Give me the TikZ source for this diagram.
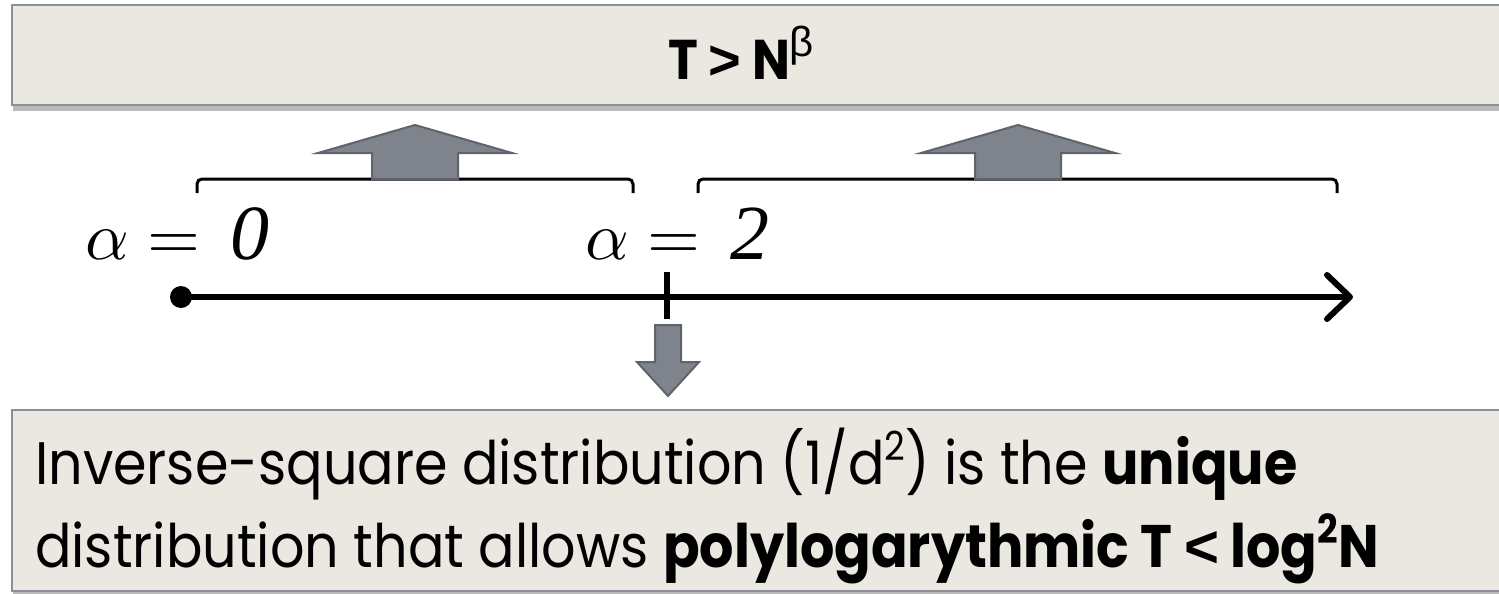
\documentclass[tikz,border=0pt]{standalone}
\usepackage{fontspec}
\usepackage{unicode-math}
\setmathfont{Latin Modern Math}
\newfontfamily\boxfont[FakeStretch=0.90]{Poppins}
\newfontfamily\grkfont{Liberation Sans}
\newfontfamily\digfont{Liberation Serif}
\newcommand\supr[1]{\raisebox{0.40em}{\fontsize{40}{44}\selectfont #1}}
\newcommand\cmpsym[1]{{\grkfont #1}}
\newcommand\itdig[1]{\text{\digfont\itshape\fontsize{78}{80}\selectfont #1}}
\usetikzlibrary{shadows}
\definecolor{boxfill}{RGB}{235,232,225}
\definecolor{boxline}{RGB}{140,144,152}
\definecolor{arrfill}{RGB}{127,131,140}
\definecolor{arrline}{RGB}{95,99,107}
\begin{document}
\begin{tikzpicture}[x=1pt,y=-1pt,
  panel/.style={fill=boxfill,draw=boxline,line width=2.5pt,
    drop shadow={shadow xshift=1pt,shadow yshift=-6pt,fill=black!60,opacity=0.45}},
  blockarrow/.style={fill=arrfill,draw=arrline,line width=2pt,line join=miter},
  bracketline/.style={draw=black,line width=3pt,rounded corners=5pt},
  axisline/.style={draw=black,line width=6pt},
  toptext/.style={inner sep=0pt,font=\boxfont\bfseries\fontsize{56}{64}\selectfont},
  bodytext/.style={inner sep=0pt,anchor=base west,font=\boxfont\fontsize{60}{70}\selectfont},
  mathlbl/.style={inner sep=0pt,anchor=base west,font=\fontsize{68}{76}\selectfont}]
\useasboundingbox (0,0) rectangle (1499,594);
\fill[white] (0,0) rectangle (1499,594);
% top panel
\path[panel] (12,5) rectangle (1515,105);
\node[toptext,anchor=base west] (cond) at (668,80) {T \cmpsym{>} N\raisebox{0.42em}{\grkfont\mdseries\fontsize{42}{44}\selectfont β}};
% brackets
\coordinate (b1a) at (197,193); \coordinate (b1b) at (633,193);
\coordinate (b2a) at (698,193); \coordinate (b2b) at (1337,193);
\draw[bracketline] (b1a) |- (415,179) -| (b1b);
\draw[bracketline] (b2a) |- (1018,179) -| (b2b);
% up arrows
\path[blockarrow] (372,179) -- (372,153) -- (318,153) -- (415,125) -- (512,153) -- (458,153) -- (458,179) -- cycle;
\path[blockarrow] (975,179) -- (975,153) -- (921,153) -- (1018,125) -- (1115,153) -- (1061,153) -- (1061,179) -- cycle;
% labels
\node[mathlbl] (a0) at (85,259) {$\alpha = \,\itdig{0}$};
\node[mathlbl] (a2) at (585,259) {$\alpha = \,\itdig{2}$};
% axis
\coordinate (ax0) at (181,297);
\coordinate (ax1) at (1350,297);
\fill[black] (ax0) circle (11);
\draw[axisline] (ax0) -- (ax1);
\draw[axisline,line cap=round,line join=round] (1327,275) -- (ax1) -- (1327,319);
\draw[axisline] (667,272) -- (667,319);
% down arrow
\path[blockarrow] (655,325) -- (681,325) -- (681,362) -- (699,362) -- (668,396) -- (637,362) -- (655,362) -- cycle;
% bottom panel
\path[panel] (12,410) rectangle (1515,591);
\node[bodytext] (l1) at (35,484) {Inverse-square distribution (1/d\supr{2}) is the \textbf{unique}};
\node[bodytext] (l2) at (35,567) {distribution that allows \textbf{polylogarythmic T \cmpsym{<} log\supr{2}N}};
\end{tikzpicture}
\end{document}
